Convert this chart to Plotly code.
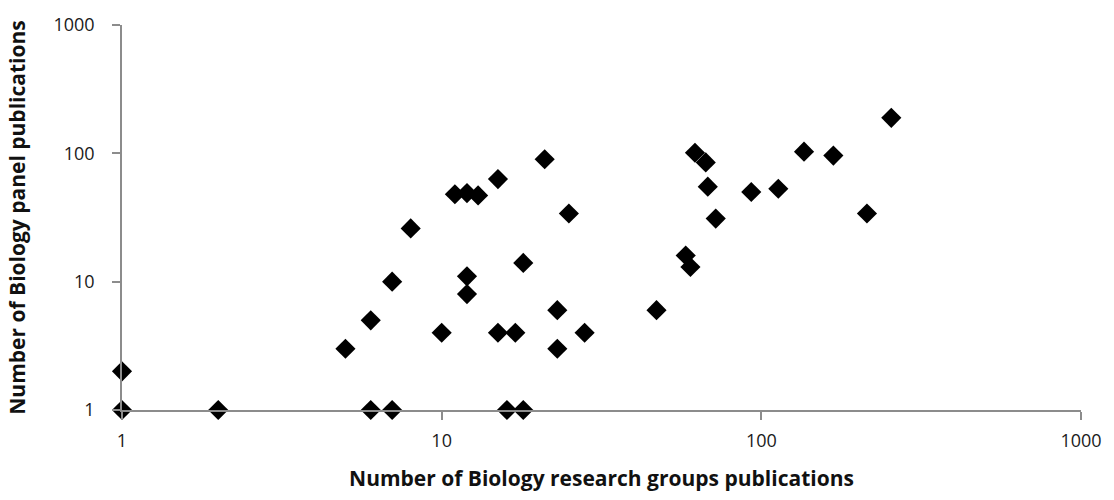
import plotly.graph_objects as go

# Publication counts per research group (x) vs. panel publications (y)
group_pubs = [1, 1, 2, 5, 6, 6, 7, 7, 8, 10, 11, 12, 13, 12, 12, 15, 15, 16, 17, 18,
              18, 21, 23, 23, 25, 28, 47, 58, 60, 62, 67, 68, 72, 93, 113, 136, 168, 214, 255]
panel_pubs = [1, 2, 1, 3, 5, 1, 10, 1, 26, 4, 48, 49, 47, 11, 8, 63, 4, 1, 4, 1,
              14, 90, 6, 3, 34, 4, 6, 16, 13, 101, 85, 55, 31, 50, 53, 103, 96, 34, 189]

tick_vals = [1, 10, 100, 1000]
tick_text = ["1", "10", "100", "1000"]

axis_color = "#8c8c8c"
font_family = "'Open Sans', sans-serif"

fig = go.Figure(
    go.Scatter(
        x=group_pubs,
        y=panel_pubs,
        mode="markers",
        marker=dict(symbol="diamond", size=15.5, color="black", line=dict(width=0)),
        cliponaxis=False,
        showlegend=False,
    )
)

common_axis = dict(
    type="log",
    tickvals=tick_vals,
    ticktext=tick_text,
    showgrid=False,
    zeroline=False,
    showline=True,
    linecolor=axis_color,
    linewidth=1.6,
    ticks="outside",
    ticklen=8,
    tickwidth=1.6,
    tickcolor=axis_color,
    tickfont=dict(family=font_family, size=18, color="#1a1a1a"),
)

fig.update_xaxes(
    **common_axis,
    range=[0, 3],
    ticklabelstandoff=6,
    title=dict(
        text="<b>Number of Biology research groups publications</b>",
        font=dict(family=font_family, size=21, color="#111111"),
        standoff=20,
    ),
)
fig.update_yaxes(
    **common_axis,
    range=[0, 3],
    ticklabelstandoff=14,
    title=dict(
        text="<b>Number of Biology panel publications</b>",
        font=dict(family=font_family, size=21, color="#111111"),
        standoff=22,
    ),
)

fig.update_layout(
    width=1114,
    height=500,
    margin=dict(l=122, r=31, t=19, b=90),
    paper_bgcolor="white",
    plot_bgcolor="white",
)

fig.write_html("out.html")
